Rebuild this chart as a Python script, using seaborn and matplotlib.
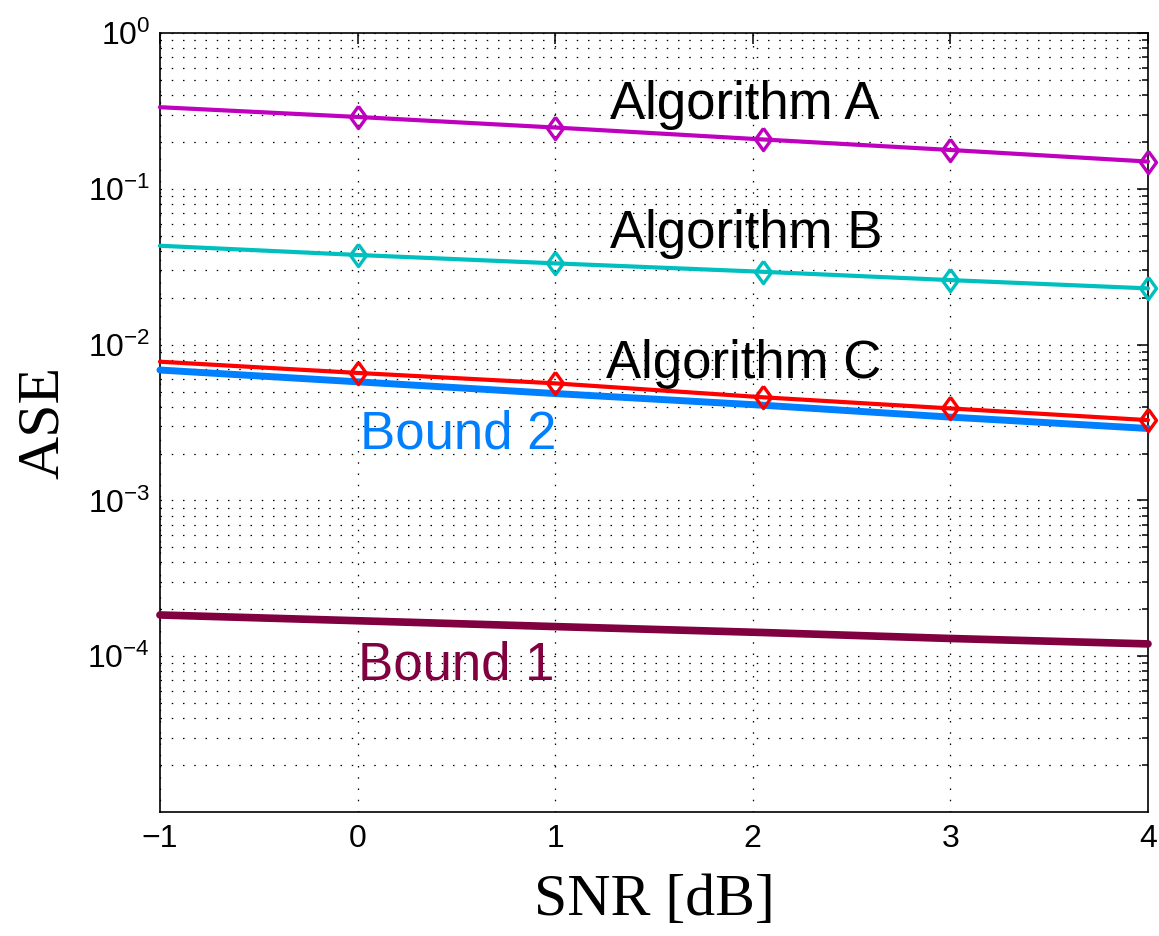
import numpy as np
import pandas as pd
import matplotlib
matplotlib.use("Agg")
import matplotlib.pyplot as plt
import seaborn as sns

# ---- data ----
snr = [-1, 0, 1, 2.05, 3, 4]
alg_a = [0.335, 0.290, 0.248, 0.208, 0.178, 0.150]
alg_b = [0.0432, 0.0377, 0.0333, 0.0294, 0.0260, 0.0230]
alg_c = [0.00778, 0.00659, 0.00565, 0.00460, 0.00390, 0.00328]
bound2 = [0.00688, 0.00578, 0.00486, 0.00409, 0.00343, 0.00290]
bound1 = [1.84e-4, 1.69e-4, 1.55e-4, 1.42e-4, 1.30e-4, 1.20e-4]

x_ticks = [-1, 0, 1, 2, 3, 4]
x_ticklabels = ["\u22121", "0", "1", "2", "3", "4"]
y_ticks = [1e0, 1e-1, 1e-2, 1e-3, 1e-4]
y_ticklabels = [r"$10^{0}$", r"$10^{-1}$", r"$10^{-2}$", r"$10^{-3}$", r"$10^{-4}$"]

sns.set_style("white")
plt.rcParams["font.family"] = ["Liberation Sans", "DejaVu Sans"]
plt.rcParams["mathtext.default"] = "regular"
plt.rcParams["axes.unicode_minus"] = True
plt.rcParams["text.color"] = "black"
plt.rcParams["axes.labelcolor"] = "black"

fig = plt.figure(figsize=(11.59, 9.36), dpi=100)
ax = fig.add_axes([0.138, 0.1325, 0.8525, 0.832])

c_a = "#bf00bf"
c_b = "#00bfbf"
c_c = "#ff0000"
c_b2 = "#0080ff"
c_b1 = "#800040"

diamond = [(0, 1), (0.72, 0), (0, -1), (-0.72, 0), (0, 1)]
mk = dict(marker=diamond, markersize=16, markeredgewidth=2.4, markerfacecolor="none",
          markevery=[1, 2, 3, 4, 5])

sns.lineplot(x=snr, y=bound1, ax=ax, color=c_b1, linewidth=5.5, zorder=3)
sns.lineplot(x=snr, y=bound2, ax=ax, color=c_b2, linewidth=5.0, zorder=3)
sns.lineplot(x=snr, y=alg_c, ax=ax, color=c_c, linewidth=3.0, markeredgecolor=c_c, zorder=4, **mk)
sns.lineplot(x=snr, y=alg_b, ax=ax, color=c_b, linewidth=3.0, markeredgecolor=c_b, zorder=4, **mk)
sns.lineplot(x=snr, y=alg_a, ax=ax, color=c_a, linewidth=3.0, markeredgecolor=c_a, zorder=4, **mk)

for ln in ax.lines:
    ln.set_clip_on(False)

ax.set_yscale("log")
ax.set_xlim(-1, 4)
ax.set_ylim(1e-5, 1e0)

ax.set_xticks(x_ticks)
ax.set_xticklabels(x_ticklabels)
ax.set_yticks(y_ticks)
ax.set_yticklabels(y_ticklabels)
ax.yaxis.set_minor_locator(matplotlib.ticker.LogLocator(base=10, subs=np.arange(2, 10), numticks=20))
ax.yaxis.set_minor_formatter(matplotlib.ticker.NullFormatter())
ax.xaxis.set_minor_locator(matplotlib.ticker.NullLocator())

ax.tick_params(axis="both", which="both", direction="in", top=True, right=True,
               labelsize=23, colors="black", width=1.1)
ax.tick_params(axis="both", which="major", length=8)
ax.tick_params(axis="both", which="minor", length=4)
ax.tick_params(axis="x", which="major", pad=9)
ax.tick_params(axis="y", which="major", pad=7)

ax.grid(True, which="major", axis="both", color="black", linestyle=(0, (1.2, 7.8)), linewidth=0.9)
ax.grid(True, which="minor", axis="y", color="black", linestyle=(0, (1.2, 7.8)), linewidth=0.9)

for sp in ax.spines.values():
    sp.set_visible(True)
    sp.set_color("black")
    sp.set_linewidth(1.2)

ax.set_xlabel("SNR [dB]", fontsize=43, family=["Liberation Serif"], labelpad=14, color="black")
ax.set_ylabel("ASE", fontsize=43, family=["Liberation Serif"], labelpad=12, color="black")

tfs = 38
ax.text(1.275, 0.282, "Algorithm A", fontsize=tfs, color="black", ha="left", va="baseline")
ax.text(1.275, 0.0416, "Algorithm B", fontsize=tfs, color="black", ha="left", va="baseline")
ax.text(1.257, 0.00608, "Algorithm C", fontsize=tfs, color="black", ha="left", va="baseline")
ax.text(0.010, 0.00216, "Bound 2", fontsize=tfs, color=c_b2, ha="left", va="baseline")
ax.text(0.004, 7.1e-5, "Bound 1", fontsize=tfs, color=c_b1, ha="left", va="baseline")

fig.savefig("out.png", dpi=100, facecolor="white")
